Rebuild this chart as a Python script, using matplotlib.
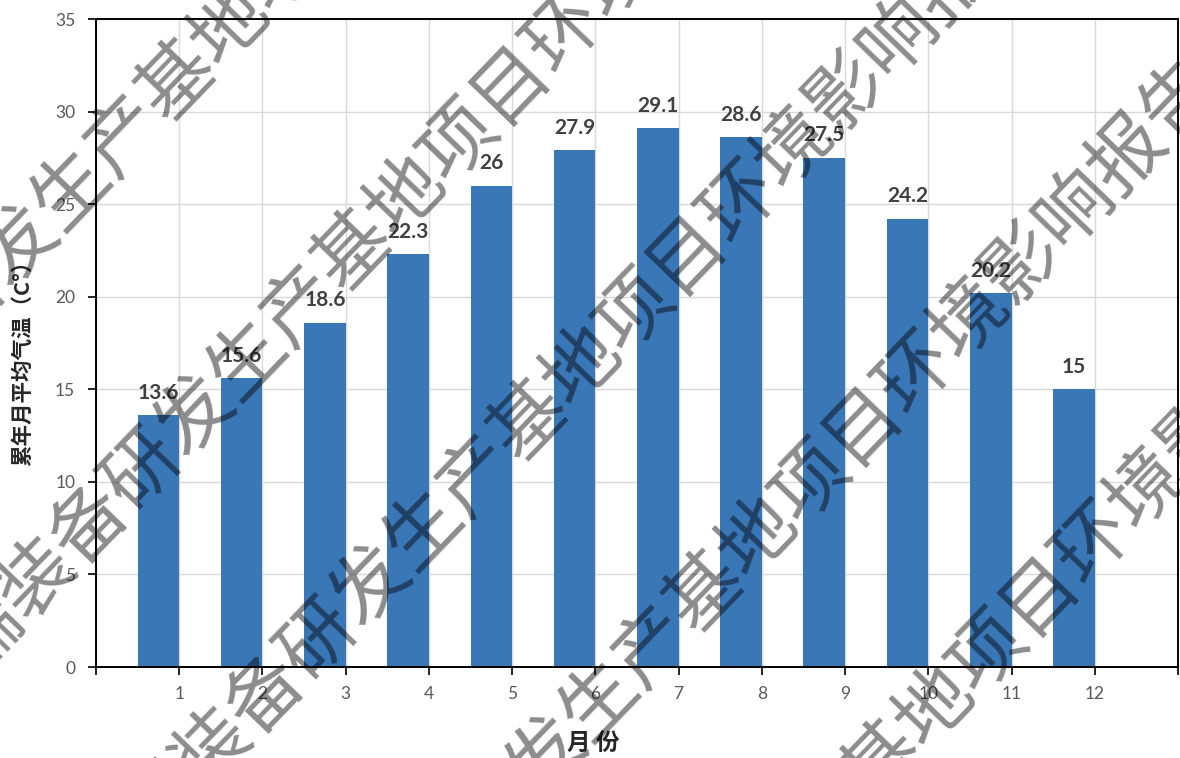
import numpy as np
import matplotlib
matplotlib.use("Agg")
import matplotlib.pyplot as plt

# Monthly mean air temperature (multi-year average)
months = [1, 2, 3, 4, 5, 6, 7, 8, 9, 10, 11, 12]
temps = [13.6, 15.6, 18.6, 22.3, 26, 27.9, 29.1, 28.6, 27.5, 24.2, 20.2, 15]
value_labels = ["13.6", "15.6", "18.6", "22.3", "26", "27.9", "29.1", "28.6", "27.5", "24.2", "20.2", "15"]
y_ticks = [0, 5, 10, 15, 20, 25, 30, 35]
y_label = "累年月平均气温（C°）"
x_label = "月 份"
stamp_text = "高端装备研发生产基地项目环境影响报告"

plt.rcParams["font.family"] = ["Lato", "Noto Sans CJK SC", "DejaVu Sans"]

W, H, DPI = 1180, 758, 100
fig = plt.figure(figsize=(W / DPI, H / DPI), dpi=DPI)
ax = fig.add_axes([96 / W, 1 - 667 / H, (1178 - 96) / W, (667 - 19) / H])

bar_color = "#3A77B7"
ax.bar(np.array(months) - 0.25, temps, width=0.5, color=bar_color, zorder=2)

for m, v, lab in zip(months, temps, value_labels):
    ax.annotate(lab, (m - 0.25, v), xytext=(0, 9), textcoords="offset points",
                ha="center", va="bottom", fontsize=15, fontweight="bold",
                color="#404040", zorder=3)

ax.set_xlim(0, 13)
ax.set_ylim(0, 35)
ax.set_xticks(range(0, 14))
ax.set_xticklabels([""] + [str(m) for m in months] + [""])
ax.set_yticks(y_ticks)
ax.set_yticklabels([str(t) for t in y_ticks])

ax.grid(True, color="#d9d9d9", linewidth=1.0, zorder=0)
ax.set_axisbelow(True)
for sp in ax.spines.values():
    sp.set_color("black")
    sp.set_linewidth(1.4)

ax.tick_params(axis="both", direction="out", length=6, width=1.2, color="black",
               labelcolor="#595959", labelsize=12.5)
ax.tick_params(axis="y", pad=9)
ax.tick_params(axis="x", pad=8)

ax.set_ylabel(y_label, fontsize=15.5, fontweight="bold", color="#262626",
              family=["Noto Sans CJK SC", "DejaVu Sans"])
ax.yaxis.set_label_coords((33 - 96) / (1178 - 96), (667 - 358) / (667 - 19))

fig.text(593 / W, 1 - 744 / H, x_label, ha="center", va="center", fontsize=17,
         fontweight="bold", color="#262626",
         family=["Noto Sans CJK SC", "DejaVu Sans"])

# Diagonal stamp text laid over the whole chart
angle = 46.0
pitch_px = 76
rad = np.deg2rad(angle)
along = np.array([np.cos(rad), -np.sin(rad)])     # pixel frame, y downward
across = np.array([np.sin(rad), np.cos(rad)])
s_center = 104.0
row_offsets = [183, 428, 673, 918, 1163]
for c in row_offsets:
    cx, cy = s_center * along + c * across
    fig.text(cx / W, 1 - cy / H, stamp_text, rotation=angle, rotation_mode="anchor",
             ha="center", va="center", fontsize=pitch_px * 72 / DPI,
             fontweight="medium", color="black", alpha=0.45, zorder=10,
             family=["Noto Sans CJK SC", "DejaVu Sans"])

fig.savefig("out.png", dpi=DPI)
